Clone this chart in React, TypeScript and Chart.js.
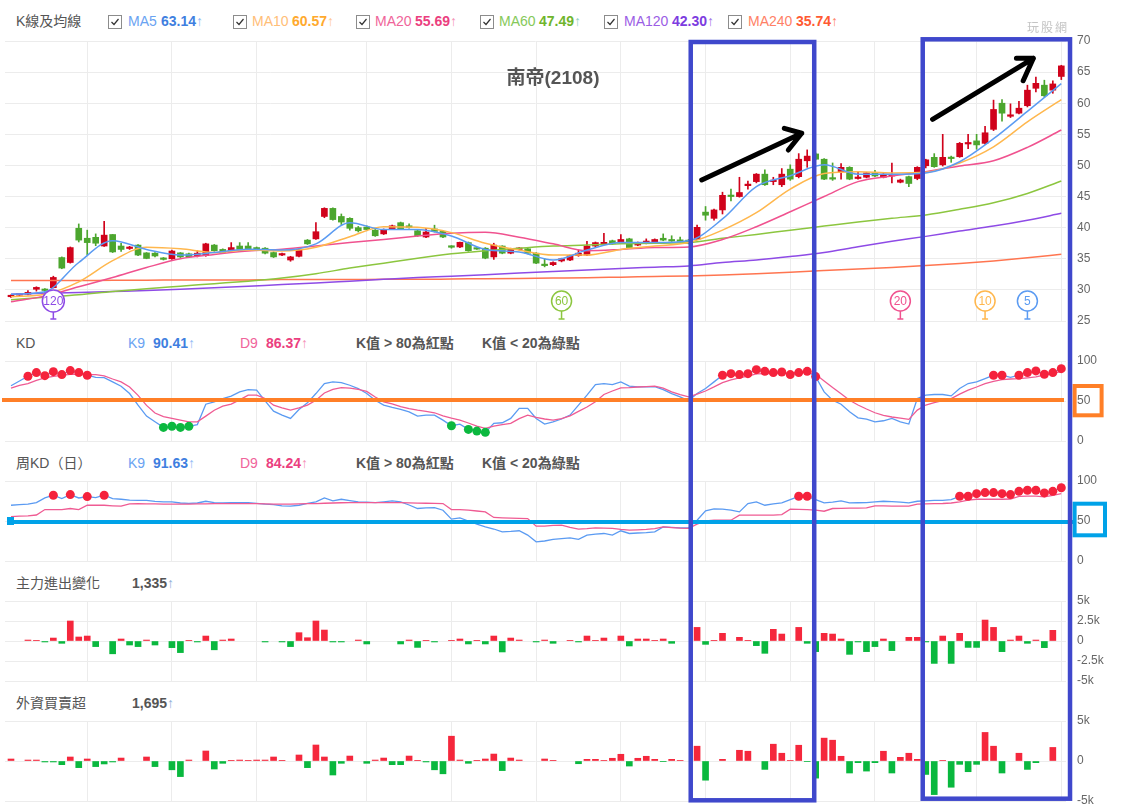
import React, { useEffect, useRef } from "react";
import { Chart, registerables } from "chart.js";

Chart.register(...registerables);

const FONT = '"Liberation Sans", Arial, "Noto Sans CJK TC", sans-serif';
const GRID = "#ececec";

// ---------- x layout (trading-day index) ----------
const X_MIN = -0.708;
const X_MAX = 124.555;
const GRID_IDX = [9, 19, 29, 42, 52, 62, 72, 82, 92, 102, 114, 124];

// ---------- candles ----------
const OPEN = [28.9, 29.15, 29.3, 30.1, 30.0, 30.35, 35.2, 34.4, 39.9, 38.3,
  38.45, 37.05, 38.9, 37.05, 36.65, 37.2, 35.95, 35.9, 35.1, 35.0,
  35.95, 35.8, 35.5, 35.5, 37.2, 36.5, 36.3, 37.05, 37.05, 36.8,
  36.7, 36.0, 35.6, 34.8, 35.4, 38.0, 38.2, 41.8, 43.1, 41.8,
  41.5, 40.0, 40.1, 39.6, 39.0, 39.8, 40.8, 40.3, 39.5, 38.5,
  39.8, 39.4, 36.95, 36.9, 37.6, 36.65, 36.7, 35.3, 37.05, 35.9,
  36.5, 36.6, 35.9, 34.0, 34.05, 34.65, 34.8, 35.5, 35.6, 37.05,
  37.4, 37.9, 37.6, 38.2, 37.2, 37.5, 37.6, 38.3, 38.1, 38.0,
  38.0, 38.15, 42.5, 41.5, 42.85, 45.15, 45.0, 46.75, 47.4, 48.6,
  47.4, 46.9, 49.4, 48.2, 50.75, 51.85, 51.0, 48.0, 49.0, 49.7,
  47.9, 48.1, 48.8, 48.1, 48.3, 47.3, 48.2, 47.9, 49.95, 51.3,
  50.1, 51.3, 51.4, 53.45, 53.95, 53.55, 55.8, 60.0, 57.9, 58.4,
  59.6, 62.4, 62.9, 62.1, 64.3];
const CLOSE = [29.1, 29.25, 29.6, 30.4, 29.9, 32.0, 33.5, 36.8, 38.0, 37.6,
  37.5, 38.8, 36.1, 36.5, 36.75, 35.6, 35.05, 35.45, 34.9, 36.25,
  35.3, 35.3, 35.9, 37.4, 36.3, 36.0, 36.8, 36.5, 36.6, 36.5,
  35.9, 35.3, 35.8, 35.3, 36.5, 37.4, 39.35, 43.1, 41.3, 40.9,
  39.9, 39.5, 39.7, 38.7, 39.7, 40.3, 39.8, 40.0, 38.7, 39.3,
  39.4, 38.5, 36.85, 37.65, 36.3, 36.55, 35.1, 37.2, 35.9, 36.6,
  36.7, 35.9, 34.3, 33.9, 34.4, 35.0, 35.5, 35.9, 37.05, 37.6,
  37.6, 37.4, 38.1, 36.8, 37.6, 37.85, 38.1, 38.0, 37.85, 37.8,
  37.5, 40.05, 42.0, 42.85, 45.2, 45.0, 45.65, 47.0, 48.6, 46.9,
  47.6, 48.6, 47.8, 51.0, 51.5, 51.0, 47.8, 47.8, 49.7, 47.8,
  48.1, 48.8, 48.3, 48.6, 48.5, 47.65, 47.1, 49.7, 50.9, 49.8,
  51.3, 51.1, 53.55, 53.6, 53.3, 55.25, 59.0, 58.4, 58.1, 59.2,
  62.1, 63.2, 61.2, 63.1, 66.0];
const HIGH = [29.2, 29.3, 29.9, 30.5, 30.2, 32.2, 35.3, 36.9, 40.6, 39.6,
  39.0, 41.0, 38.9, 37.5, 37.0, 37.3, 36.0, 36.0, 35.2, 36.4,
  36.0, 35.9, 36.3, 37.5, 37.3, 36.6, 37.6, 37.6, 37.6, 36.9,
  36.8, 36.1, 35.9, 35.4, 36.6, 38.1, 40.8, 43.2, 43.2, 42.2,
  41.6, 40.2, 40.3, 39.7, 39.8, 40.4, 40.9, 40.6, 39.6, 39.9,
  40.4, 39.5, 37.1, 37.7, 37.7, 36.8, 36.8, 37.5, 37.1, 36.7,
  36.8, 36.7, 36.0, 35.0, 34.5, 35.1, 35.6, 36.4, 37.8, 37.7,
  39.1, 38.0, 38.9, 38.3, 37.7, 38.2, 38.2, 39.0, 38.7, 38.5,
  38.1, 40.4, 43.4, 43.0, 45.7, 46.2, 48.1, 47.5, 48.7, 49.3,
  48.1, 49.5, 50.1, 51.9, 52.5, 52.0, 51.1, 50.4, 50.3, 49.8,
  49.0, 48.9, 49.2, 48.7, 50.4, 47.8, 48.3, 49.8, 51.0, 51.9,
  55.0, 51.5, 53.7, 55.0, 55.0, 56.3, 60.5, 60.6, 59.9, 60.3,
  62.9, 64.2, 63.7, 63.6, 66.1];
const LOW = [28.8, 29.1, 29.2, 29.8, 29.6, 30.3, 33.4, 34.3, 37.7, 35.6,
  37.1, 37.0, 36.0, 36.2, 36.5, 35.5, 35.0, 35.3, 34.8, 34.9,
  35.2, 35.2, 35.3, 35.4, 36.2, 35.9, 36.2, 36.4, 36.5, 36.4,
  35.8, 35.2, 35.5, 34.6, 35.3, 37.3, 38.1, 41.6, 41.2, 40.5,
  39.6, 39.3, 39.5, 38.6, 38.9, 39.7, 39.7, 39.9, 38.6, 38.4,
  39.3, 38.4, 36.7, 36.8, 36.2, 36.5, 35.0, 34.9, 35.8, 35.8,
  36.4, 35.8, 34.2, 33.7, 33.9, 34.5, 34.7, 35.4, 35.5, 36.9,
  37.3, 37.3, 37.5, 36.7, 37.1, 37.4, 37.5, 37.9, 37.8, 37.7,
  37.4, 38.1, 41.2, 41.2, 42.2, 44.3, 44.9, 46.2, 47.2, 46.8,
  46.9, 46.6, 47.6, 48.0, 49.7, 50.9, 47.7, 47.6, 47.8, 47.7,
  47.8, 48.0, 48.2, 48.0, 47.2, 47.2, 46.6, 47.7, 49.6, 49.7,
  49.9, 50.5, 51.3, 52.7, 52.6, 53.4, 55.6, 57.1, 57.7, 58.3,
  59.4, 61.8, 61.0, 61.6, 63.8];

// ---------- moving averages (read every 4 days) ----------
const MA_X = [0, 4, 8, 12, 16, 20, 24, 28, 32, 36, 40, 44, 48, 52, 56, 60,
  64, 68, 72, 76, 80, 84, 88, 92, 96, 100, 104, 108, 112, 116, 120, 124];
const MA5 = [29.3, 29.7, 34.4, 37.9, 36.5, 35.6, 36.0, 36.55, 36.4, 37.4, 40.8, 39.7, 39.7, 38.65, 36.5, 36.1,
  34.8, 36.4, 37.6, 37.6, 37.9, 41.4, 46.6, 48.35, 50.1, 48.6, 48.6, 48.8, 50.6, 54.3, 58.7, 63.14];
const MA10 = [28.9, 29.3, 31.3, 34.7, 36.85, 36.6, 36.0, 36.4, 36.25, 36.85, 38.55, 40.15, 40.05, 39.2, 37.5, 36.4,
  35.6, 35.6, 36.5, 37.05, 37.6, 39.6, 42.4, 46.2, 48.7, 49.0, 48.8, 48.9, 50.4, 53.0, 57.0, 60.57];
const MA20 = [28.1, 29.0, 30.5, 32.0, 33.6, 35.0, 35.7, 36.25, 36.55, 37.05, 37.6, 38.1, 38.65, 39.1, 39.25, 38.45,
  37.4, 36.3, 36.5, 36.8, 36.9, 38.1, 40.15, 42.55, 45.0, 47.4, 48.3, 49.0, 49.9, 50.75, 52.9, 55.69];
const MA60 = [28.4, 28.8, 29.2, 29.75, 30.2, 30.6, 31.0, 31.4, 31.9, 32.6, 33.5, 34.3, 35.1, 35.8, 36.3, 36.7,
  37.05, 37.2, 37.4, 37.5, 37.6, 38.3, 38.9, 39.6, 40.25, 40.9, 41.5, 42.05, 42.95, 44.0, 45.5, 47.49];
const MA120 = [29.3, 29.45, 29.6, 29.75, 29.9, 30.1, 30.35, 30.6, 30.85, 31.1, 31.4, 31.7, 32.0, 32.2, 32.45, 32.7,
  32.95, 33.2, 33.45, 33.65, 33.85, 34.4, 34.8, 35.35, 36.0, 36.95, 37.8, 38.6, 39.45, 40.25, 41.2, 42.3];
const MA240 = [31.5, 31.5, 31.5, 31.55, 31.55, 31.6, 31.6, 31.6, 31.65, 31.65, 31.65, 31.7, 31.7, 31.75, 31.8, 31.85,
  31.9, 31.95, 32.05, 32.15, 32.25, 32.4, 32.6, 32.85, 33.1, 33.35, 33.6, 33.9, 34.25, 34.65, 35.15, 35.74];

// MA start markers
const MARK_IDX = [5, 65, 105, 115, 120];
const MARK_LABEL = ["120", "60", "20", "10", "5"];

// ---------- KD ----------
const K9 = [69, 75, 80.9, 85.5, 81.7, 86.7, 83.0, 88.0, 85.5, 82.2,
  79.5, 79.3, 73.9, 68.5, 59.3, 44.8, 31.1, 24.0, 17.0, 18.5,
  17.0, 18.3, 20.5, 46, 49, 53, 56, 61.4, 64.3, 63.5,
  50.2, 37.3, 32.4, 28.2, 39.4, 47.7, 59.3, 71.8, 73.9, 73.0,
  69.7, 65.6, 59.3, 51.0, 44.8, 41.9, 39.4, 36.5, 31.1, 32.4,
  32.4, 26.1, 19.1, 21.0, 14.5, 12.4, 10.8, 22.0, 22.8, 28.2,
  40.7, 40.7, 28.2, 21.2, 24.0, 27.5, 32.4, 44.8, 57.3, 70.5,
  71.8, 70.5, 73.9, 68.5, 67.6, 67.6, 68.0, 64.3, 59.3, 55.2,
  50.2, 59.3, 65.6, 73.9, 82.2, 84.2, 83.0, 84.2, 89.2, 87.1,
  85.5, 86.3, 83.0, 85.5, 87.1, 80.5, 61.4, 51.0, 46.0, 36.5,
  29.0, 27.4, 24.0, 25.3, 28.2, 24.0, 21.2, 53, 57.3, 58.1,
  58.1, 56.4, 65.6, 71.8, 73.9, 78.0, 82.2, 82.2, 79.5, 82.2,
  85.5, 87.6, 83.4, 85.5, 90.41];
const D9 = [66, 69.5, 71.8, 75.9, 78.8, 80.9, 82, 83.4, 83.3, 83,
  83, 81.5, 77.5, 73.9, 67.5, 57, 44.5, 35, 30.5, 28.2,
  26.1, 24.0, 24.0, 31.1, 38.5, 43.5, 46, 51.5, 57.3, 57.3,
  53.1, 44.8, 41.5, 38.6, 41.5, 44.8, 51, 60, 64.5, 66.8,
  66.2, 64.5, 62, 55, 49, 46.5, 43, 40.5, 38.6, 37,
  35.3, 31.5, 28.5, 26, 22.5, 18.5, 15.8, 18.5, 20.5, 22,
  28, 32.4, 29.5, 27.5, 26.1, 28, 31.5, 37, 42.5, 49,
  58.1, 62.5, 66.4, 66.8, 67.5, 68, 68.5, 66, 61.5, 58,
  55.2, 58.5, 62.5, 67.6, 73, 76.5, 79, 81, 84, 84.2,
  84.2, 84.5, 85, 85.5, 86.2, 83.4, 75, 66.8, 59, 51,
  45, 40, 35.3, 32, 30, 28.5, 27, 38.6, 45, 48,
  50.5, 53.1, 58.5, 63.5, 67.5, 71.8, 74.5, 76.8, 77.5, 78,
  79, 80.1, 82.5, 85.1, 86.37];

// ---------- weekly KD (daily plotted) ----------
const WK9 = [69.7, 70.5, 71, 73, 78.8, 82.2, 78, 83, 78.8, 80.5,
  79.3, 82.2, 78, 77.2, 76, 75.9, 75.9, 74.5, 74, 73.9,
  72.5, 72, 72.5, 74.7, 73, 72.6, 72.8, 73, 73, 72,
  71, 70.5, 69, 68.5, 69.7, 72, 73.9, 78.8, 75.1, 77.2,
  75.5, 73.9, 73.5, 73, 74, 75.1, 73.9, 70, 65.6, 66.5,
  66.8, 63.5, 52.3, 53.9, 50, 46, 42.7, 40, 36.5, 37,
  37.8, 32.4, 24, 25, 27, 28, 29, 27, 32.4, 33.5,
  34.4, 32.4, 37.8, 34.4, 35, 35.5, 36.5, 42.7, 42, 41.5,
  41.5, 51, 62.7, 65.1, 64.8, 63.5, 61.4, 71.8, 73.9, 69.7,
  71.5, 72.6, 76.8, 80.9, 80.9, 76.8, 72.6, 73.5, 75.1, 72.6,
  72.8, 73, 74, 74.7, 74.2, 73.5, 72.6, 74.7, 75.2, 75.9,
  75.9, 76.8, 80.9, 80.9, 84.2, 85.5, 85.5, 84.2, 83, 87.1,
  88.4, 88.4, 85.1, 87.1, 91.63];
const WD9 = [55.5, 56, 56.5, 57.5, 64.3, 64.3, 64.3, 65.6, 64.3, 69.7,
  69.7, 69.7, 69, 68.5, 71.5, 71.8, 71.5, 71.3, 71, 71,
  71, 71.2, 71.3, 71.5, 71.6, 71.7, 71.8, 71.8, 71.8, 71.6,
  71.4, 71.2, 71, 71.2, 71.5, 71.7, 71.8, 72.2, 72.5, 72.8,
  73, 73, 73, 73, 73, 73, 73, 72.7, 72.4, 72.2,
  72, 71.8, 64.3, 64.3, 63.5, 62.5, 61.4, 54.4, 54, 53.6,
  53.2, 53, 43.6, 43.6, 44.5, 44.8, 42, 39.8, 40.5, 41.5,
  41, 40.7, 39.5, 38.6, 39, 39.5, 40.5, 42.7, 41.8, 41,
  40.7, 46, 50, 51, 51, 51, 57.3, 57.3, 57.3, 57.3,
  57.3, 58, 64.7, 64.5, 64.3, 63.5, 62.2, 65.6, 65.8, 66,
  66.2, 66.5, 68.9, 68.8, 68.7, 68.6, 68.5, 71, 71.3, 71.6,
  71.9, 72.5, 73.9, 76, 77.2, 77.2, 77.2, 77.2, 77.5, 80.9,
  81, 81.2, 80.1, 82, 84.24];

// ---------- 主力進出變化 / 外資買賣超 (張) ----------
const MAIN_FORCE = [null, null, 120, 40, -120, 370, -290, 2500, 500, 620,
  -700, null, -1600, 250, -500, -700, 120, -500, null, -830,
  -1450, 40, -120, 620, -1100, 120, 250, null, null, null,
  -120, null, -120, -700, 1040, 410, 2500, 1370, -120, -120,
  null, 120, -370, null, null, null, -370, 120, -800, 40,
  -120, null, 40, 250, -370, 40, -370, 620, -1370, 370,
  120, null, -120, 120, -290, null, 40, -120, 620, 40,
  370, null, 620, -620, 250, 250, 40, 250, -290, null,
  null, 1700, -420, 40, 960, null, 460, 40, -580, -1540,
  1460, 870, null, 1700, -290, -1330, 960, 870, 250, -1670,
  -120, -1330, -700, 250, -1200, null, 460, 460, -120, -2800,
  620, -2800, 960, -800, -800, 2620, 1700, -1330, 120, 620,
  -290, 120, -830, 1335, null];
const FOREIGN = [250, null, 120, 120, -120, -120, -460, 500, -830, 250,
  -700, -370, -120, 370, null, null, 500, -700, null, -1100,
  -1950, 120, null, 1250, -1000, -290, 40, 120, 40, 120,
  120, 500, 40, null, 750, -830, 2000, 500, -1750, -290,
  620, null, -290, 120, 370, -460, -460, 620, 40, -120,
  -1100, -1600, 3100, 120, -290, 40, 250, 870, -1200, 370,
  120, null, null, 250, 40, null, null, -340, 210, 210,
  80, 340, 840, -630, 340, 590, 210, -80, 210, 80,
  null, 1850, -2400, null, 210, null, 1340, 1220, null, -1050,
  2100, 970, 80, 1970, -80, -2140, 2860, 2600, 590, -1500,
  -210, -1260, -210, 1220, -1500, 460, 970, 210, -1680, -4200,
  80, -3280, -420, -1340, -420, 3570, 1850, -1500, null, 970,
  -1050, -210, null, 1695, null];

// ---------- axis ticks ----------
const PRICE_TICKS = [25, 30, 35, 40, 45, 50, 55, 60, 65, 70];
const KD_TICKS = [0, 50, 100];
const MF_TICKS = [-5000, -2500, 0, 2500, 5000];
const FI_TICKS = [-5000, 0, 5000];

// ---------- annotations (index / value space) ----------
const RECT_IDX = [[80.25, 94.83], [107.64, 125.03]];
const RECT_Y = [[42, 800.3], [39.3, 798.7]];
const ARROWS = [
  { from: [81.55, 47.66], tip: [93.35, 55.17], h1: [91.3, 55.97], h2: [91.77, 52.48] },
  { from: [108.8, 57.42], tip: [120.7, 67.22], h1: [118.7, 67.22], h2: [119.5, 63.62] },
];

// ---------- colours ----------
const C_MA5 = "#5b9bf2", C_MA10 = "#ffb74d", C_MA20 = "#f0528f", C_MA60 = "#8cc63f", C_MA120 = "#8e4be6", C_MA240 = "#ff7550";
const C_UP = "#d0021b", C_DOWN = "#4ca62e";
const BAR_UP = "#f5273c", BAR_DOWN = "#09b83e";
const K_COLOR = "#5b9bf2", D_COLOR = "#ef5b93";
const MARK_COLORS = [C_MA120, C_MA60, C_MA20, C_MA10, C_MA5];

function xAxis() {
  return {
    type: "linear",
    min: X_MIN,
    max: X_MAX,
    bounds: "data",
    offset: false,
    afterBuildTicks: (s: any) => {
      s.ticks = GRID_IDX.map((v) => ({ value: v }));
    },
    afterFit: (s: any) => {
      s.height = 0;
      s.paddingLeft = 0;
      s.paddingRight = 0;
    },
    ticks: { display: false },
    grid: { color: GRID, drawTicks: false, offset: false },
    border: { display: false },
  };
}

function yAxis(min: number, max: number, ticks: number[], fmt: (v: number) => string) {
  return {
    type: "linear",
    position: "right",
    min,
    max,
    bounds: "data",
    beginAtZero: false,
    afterBuildTicks: (s: any) => {
      s.ticks = ticks.map((v) => ({ value: v }));
    },
    afterFit: (s: any) => {
      s.width = 58;
      s.paddingTop = 0;
      s.paddingBottom = 0;
    },
    ticks: {
      padding: 11,
      color: "#666",
      font: { family: FONT, size: 12 },
      callback: (v: any) => fmt(Number(v)),
    },
    grid: { color: GRID, drawTicks: false },
    border: { display: false },
  };
}

function baseOptions(padTop: number, padBottom: number, y: any) {
  return {
    responsive: false,
    animation: false,
    events: [],
    layout: { padding: { left: 5, right: 0, top: padTop, bottom: padBottom } },
    plugins: { legend: { display: false }, tooltip: { enabled: false } },
    scales: { x: xAxis(), y },
  };
}

const markerPlugin = {
  id: "maMarkers",
  afterDatasetsDraw(chart: any) {
    const { ctx, chartArea } = chart;
    const xs = chart.scales.x;
    MARK_IDX.forEach((idx, k) => {
      const cx = xs.getPixelForValue(idx);
      const cy = chartArea.bottom - 20;
      const label = MARK_LABEL[k];
      const r = label.length > 2 ? 11 : 10;
      const col = MARK_COLORS[k];
      ctx.save();
      ctx.strokeStyle = col;
      ctx.lineWidth = 1.5;
      ctx.beginPath();
      ctx.moveTo(cx, cy + r);
      ctx.lineTo(cx, chartArea.bottom - 2);
      ctx.moveTo(cx - 3, chartArea.bottom - 2);
      ctx.lineTo(cx + 3, chartArea.bottom - 2);
      ctx.stroke();
      ctx.beginPath();
      ctx.arc(cx, cy, r, 0, Math.PI * 2);
      ctx.fillStyle = "#fff";
      ctx.fill();
      ctx.stroke();
      ctx.fillStyle = col;
      ctx.font = `12px ${FONT}`;
      ctx.textAlign = "center";
      ctx.textBaseline = "middle";
      ctx.fillText(label, cx, cy + 0.5);
      ctx.restore();
    });
  },
};

function priceConfig(): any {
  const idx = OPEN.map((_, i) => i);
  const col = idx.map((i) => (CLOSE[i] >= OPEN[i] ? C_UP : C_DOWN));
  const ma = (vals: number[], color: string) => ({
    type: "line",
    data: MA_X.map((x, k) => ({ x, y: vals[k] })),
    borderColor: color,
    borderWidth: 1.5,
    pointRadius: 0,
    cubicInterpolationMode: "monotone",
    fill: false,
  });
  return {
    type: "bar",
    data: {
      datasets: [
        ma(MA5, C_MA5),
        ma(MA10, C_MA10),
        ma(MA20, C_MA20),
        ma(MA60, C_MA60),
        ma(MA120, C_MA120),
        ma(MA240, C_MA240),
        {
          type: "bar",
          data: idx.map((i) => ({ x: i, y: [Math.min(OPEN[i], CLOSE[i]), Math.max(OPEN[i], CLOSE[i])] })),
          backgroundColor: col,
          barThickness: 6,
          minBarLength: 1.5,
          grouped: false,
          borderWidth: 0,
        },
        {
          type: "bar",
          data: idx.map((i) => ({ x: i, y: [LOW[i], HIGH[i]] })),
          backgroundColor: col,
          barThickness: 1,
          grouped: false,
          borderWidth: 0,
        },
      ],
    },
    options: baseOptions(11, 9, yAxis(25, 70, PRICE_TICKS, (v) => String(v))),
    plugins: [markerPlugin],
  };
}

function kdConfig(K: number[], D: number[]): any {
  const dots: { x: number; y: number }[] = [];
  K.forEach((v, i) => {
    if (v > 80 || v < 20) dots.push({ x: i, y: v });
  });
  return {
    type: "line",
    data: {
      datasets: [
        {
          data: dots,
          showLine: false,
          pointRadius: 4.5,
          pointBorderWidth: 0,
          pointBackgroundColor: dots.map((d) => (d.y > 80 ? "#f5223c" : "#0bb83f")),
        },
        { data: D.map((y, x) => ({ x, y })), borderColor: D_COLOR, borderWidth: 1.3, pointRadius: 0, tension: 0 },
        { data: K.map((y, x) => ({ x, y })), borderColor: K_COLOR, borderWidth: 1.3, pointRadius: 0, tension: 0 },
      ],
    },
    options: baseOptions(9, 9, yAxis(0, 100, KD_TICKS, (v) => String(v))),
  };
}

function barConfig(vals: (number | null)[], ticks: number[]): any {
  const data: { x: number; y: number }[] = [];
  vals.forEach((v, i) => {
    if (v !== null) data.push({ x: i, y: v });
  });
  const fmt = (v: number) => (v === 0 ? "0" : `${v / 1000}k`);
  return {
    type: "bar",
    data: {
      datasets: [
        {
          data,
          backgroundColor: data.map((d) => (d.y >= 0 ? BAR_UP : BAR_DOWN)),
          barThickness: 6,
          grouped: false,
          borderWidth: 0,
        },
      ],
    },
    options: baseOptions(9, 9, yAxis(-5000, 5000, ticks, fmt)),
  };
}

const PANEL_TOPS = [30, 352, 472, 592, 712];
const PANEL_HEIGHTS = [300, 98, 98, 98, 98];

function drawOverlay(cv: HTMLCanvasElement, price: any, kd: any, wkd: any) {
  const ctx = cv.getContext("2d");
  if (!ctx) return;
  ctx.clearRect(0, 0, cv.width, cv.height);
  const xs = price.scales.x;
  const ys = price.scales.y;
  const X = (v: number) => xs.getPixelForValue(v);
  const PY = (v: number) => PANEL_TOPS[0] + ys.getPixelForValue(v);

  // orange 50 line on KD
  const oy = PANEL_TOPS[1] + kd.scales.y.getPixelForValue(50) - 1;
  ctx.strokeStyle = "#ff7f27";
  ctx.lineWidth = 4;
  ctx.beginPath();
  ctx.moveTo(2, oy);
  ctx.lineTo(1064, oy);
  ctx.stroke();
  ctx.strokeRect(1074.6, 386, 27, 29.3);

  // cyan 50 line on weekly KD
  const cy = PANEL_TOPS[2] + wkd.scales.y.getPixelForValue(50) + 1;
  ctx.strokeStyle = "#00a2e8";
  ctx.fillStyle = "#00a2e8";
  ctx.beginPath();
  ctx.moveTo(8, cy);
  ctx.lineTo(1073, cy);
  ctx.stroke();
  ctx.fillRect(7, cy - 5, 7, 8);
  ctx.strokeRect(1074.6, 503.7, 30.4, 31.6);

  // blue boxes
  ctx.strokeStyle = "#3f48cc";
  ctx.lineWidth = 4.5;
  RECT_IDX.forEach(([a, b], k) => {
    const [t, bt] = RECT_Y[k];
    ctx.strokeRect(X(a), t, X(b) - X(a), bt - t);
  });

  // arrows
  ctx.strokeStyle = "#000";
  ctx.lineWidth = 5;
  ctx.lineCap = "round";
  ctx.lineJoin = "round";
  ARROWS.forEach((a) => {
    ctx.beginPath();
    ctx.moveTo(X(a.from[0]), PY(a.from[1]));
    ctx.lineTo(X(a.tip[0]), PY(a.tip[1]));
    ctx.moveTo(X(a.h1[0]), PY(a.h1[1]));
    ctx.lineTo(X(a.tip[0]), PY(a.tip[1]));
    ctx.lineTo(X(a.h2[0]), PY(a.h2[1]));
    ctx.stroke();
  });
}

type Item = { x: number; t: string; c: string; b?: boolean; arrow?: string };

function Row({ y, items }: { y: number; items: Item[] }) {
  return (
    <>
      {items.map((it, k) => (
        <div
          key={k}
          style={{
            position: "absolute",
            left: it.x,
            top: y - 9,
            height: 18,
            lineHeight: "18px",
            fontSize: 14,
            whiteSpace: "nowrap",
            color: it.c,
            fontWeight: it.b ? 700 : 400,
          }}
        >
          {it.t}
          {it.arrow ? <span style={{ color: it.arrow, fontWeight: 400 }}>↑</span> : null}
        </div>
      ))}
    </>
  );
}

function Check({ x, y }: { x: number; y: number }) {
  return (
    <div
      style={{
        position: "absolute",
        left: x,
        top: y - 7,
        width: 12,
        height: 12,
        border: "1px solid #8c8c8c",
        background: "#fff",
      }}
    >
      <svg width="12" height="12" style={{ display: "block" }}>
        <polyline points="2.5,6 5,8.5 9.5,3" fill="none" stroke="#333" strokeWidth="1.2" />
      </svg>
    </div>
  );
}

export default function App() {
  const r1 = useRef<HTMLCanvasElement>(null);
  const r2 = useRef<HTMLCanvasElement>(null);
  const r3 = useRef<HTMLCanvasElement>(null);
  const r4 = useRef<HTMLCanvasElement>(null);
  const r5 = useRef<HTMLCanvasElement>(null);
  const ov = useRef<HTMLCanvasElement>(null);

  useEffect(() => {
    const charts: any[] = [];
    charts.push(new Chart(r1.current as HTMLCanvasElement, priceConfig()));
    charts.push(new Chart(r2.current as HTMLCanvasElement, kdConfig(K9, D9)));
    charts.push(new Chart(r3.current as HTMLCanvasElement, kdConfig(WK9, WD9)));
    charts.push(new Chart(r4.current as HTMLCanvasElement, barConfig(MAIN_FORCE, MF_TICKS)));
    charts.push(new Chart(r5.current as HTMLCanvasElement, barConfig(FOREIGN, FI_TICKS)));
    if (ov.current) drawOverlay(ov.current, charts[0], charts[1], charts[2]);
    return () => {
      charts.forEach((c) => c.destroy());
    };
  }, []);

  const refs = [r1, r2, r3, r4, r5];
  const gray = "#555";
  const kdRow = (k: string, d: string): Item[] => [
    { x: 128, t: "K9", c: "#6aa3f2" },
    { x: 153, t: k, c: "#3f7fe0", b: true, arrow: "#8fbaf5" },
    { x: 240, t: "D9", c: "#f0649a" },
    { x: 266, t: d, c: "#eb3f7f", b: true, arrow: "#f590b5" },
    { x: 356, t: "K值 > 80為紅點", c: gray, b: true },
    { x: 482, t: "K值 < 20為綠點", c: gray, b: true },
  ];

  return (
    <div
      style={{
        position: "absolute",
        left: 0,
        top: 0,
        width: 1124,
        height: 812,
        background: "#fff",
        fontFamily: FONT,
        overflow: "hidden",
      }}
    >
      {refs.map((r, k) => (
        <canvas
          key={k}
          ref={r}
          width={1124}
          height={PANEL_HEIGHTS[k]}
          style={{ position: "absolute", left: 0, top: PANEL_TOPS[k], display: "block" }}
        />
      ))}

      {/* legend row */}
      <Row
        y={21}
        items={[
          { x: 16, t: "K線及均線", c: gray },
          { x: 128, t: "MA5", c: "#6aa3f2" },
          { x: 161, t: "63.14", c: "#3f7fe0", b: true, arrow: "#8fbaf5" },
          { x: 252, t: "MA10", c: "#ffbe78" },
          { x: 292, t: "60.57", c: "#ffaa2e", b: true, arrow: "#ffc890" },
          { x: 375, t: "MA20", c: "#f0649a" },
          { x: 415, t: "55.69", c: "#eb3f7f", b: true, arrow: "#f590b5" },
          { x: 499, t: "MA60", c: "#86c95a" },
          { x: 539, t: "47.49", c: "#6fb52c", b: true, arrow: "#8fd0c0" },
          { x: 624, t: "MA120", c: "#9b5de5" },
          { x: 672, t: "42.30", c: "#7d3ce0", b: true, arrow: "#a070e8" },
          { x: 748, t: "MA240", c: "#ff7f66" },
          { x: 796, t: "35.74", c: "#ff5a32", b: true, arrow: "#ff7f66" },
        ]}
      />
      {[108, 233, 356, 480, 604, 728].map((x) => (
        <Check key={x} x={x} y={22} />
      ))}
      <div
        style={{
          position: "absolute",
          left: 1027,
          top: 18,
          fontSize: 12,
          color: "#c4c4c4",
          letterSpacing: 2,
        }}
      >
        玩股網
      </div>
      <div
        style={{
          position: "absolute",
          left: 453,
          width: 200,
          top: 62,
          textAlign: "center",
          fontSize: 19,
          fontWeight: 700,
          color: gray,
        }}
      >
        南帝(2108)
      </div>

      <Row y={343} items={[{ x: 16, t: "KD", c: gray }, ...kdRow("90.41", "86.37")]} />
      <Row y={463} items={[{ x: 16, t: "周KD（日）", c: gray }, ...kdRow("91.63", "84.24")]} />
      <Row
        y={583}
        items={[
          { x: 16, t: "主力進出變化", c: gray },
          { x: 132, t: "1,335", c: gray, b: true, arrow: "#8fb0d8" },
        ]}
      />
      <Row
        y={703}
        items={[
          { x: 16, t: "外資買賣超", c: gray },
          { x: 132, t: "1,695", c: gray, b: true, arrow: "#8fb0d8" },
        ]}
      />

      <canvas
        ref={ov}
        width={1124}
        height={812}
        style={{ position: "absolute", left: 0, top: 0, pointerEvents: "none" }}
      />
    </div>
  );
}
